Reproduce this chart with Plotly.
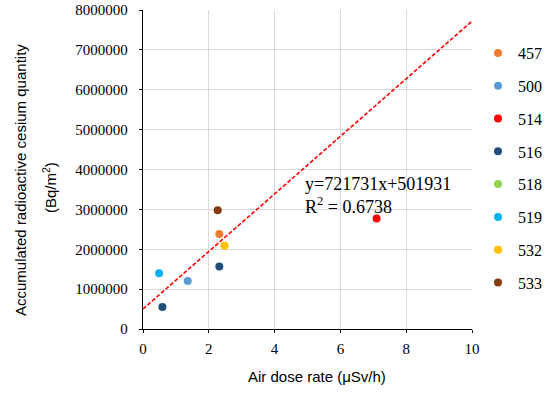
import plotly.graph_objects as go

# Site measurements: air dose rate (µSv/h) vs accumulated Cs deposition (Bq/m²)
sites = ["457", "500", "514", "516", "518", "519", "532", "533"]
colors = ["#ED7D31", "#5B9BD5", "#FF0000", "#1F4E79", "#92D050", "#00B0F0", "#FFC000", "#843C0C"]
dose_rate = {
    "457": [2.32],
    "500": [1.36],
    "514": [7.10],
    "516": [2.32, 0.59],
    "518": [None],
    "519": [0.49],
    "532": [2.48],
    "533": [2.27],
}
cesium = {
    "457": [2380000],
    "500": [1205000],
    "514": [2770000],
    "516": [1565000, 553000],
    "518": [None],
    "519": [1400000],
    "532": [2085000],
    "533": [2980000],
}

# Linear trend fitted to the measurements
slope = 721731
intercept = 501931
r_squared = 0.6738
trend_x = [0, 10]

SERIF = "Liberation Serif"
SANS = "Liberation Sans"

W, H = 547, 394
L, R, T, B = 143, 75, 10, 65
pw, ph = W - L - R, H - T - B


def px_x(p):
    return (p - L) / pw


def px_y(p):
    return (H - B - p) / ph


fig = go.Figure()

fig.add_trace(go.Scatter(
    x=trend_x,
    y=[slope * x + intercept for x in trend_x],
    mode="lines",
    line=dict(color="#FF0000", width=1.6, dash="4px,2px"),
    showlegend=False,
    hoverinfo="skip",
))

for name, col in zip(sites, colors):
    fig.add_trace(go.Scatter(
        x=dose_rate[name],
        y=cesium[name],
        mode="markers",
        name=name,
        legendgroup=name,
        showlegend=True,
        marker=dict(color=col, size=8, line=dict(width=0)),
    ))

fig.add_annotation(
    x=4.87, y=3640000, xref="x", yref="y",
    text=f"y={slope}x+{intercept}",
    showarrow=False, xanchor="left", yanchor="middle",
    font=dict(family=SERIF, size=18, color="#000000"),
)
fig.add_annotation(
    x=4.87, y=3090000, xref="x", yref="y",
    text=f"R<sup>2</sup> = {r_squared}",
    showarrow=False, xanchor="left", yanchor="middle",
    font=dict(family=SERIF, size=18, color="#000000"),
)

# Axis titles
fig.add_annotation(
    x=px_x(317), y=px_y(377), xref="paper", yref="paper",
    text="Air dose rate (μSv/h)", showarrow=False,
    xanchor="center", yanchor="middle",
    font=dict(family=SANS, size=15, color="#000000"),
)
fig.add_annotation(
    x=px_x(20), y=px_y(180), xref="paper", yref="paper",
    text="Accumulated radioactive cesium quantity", showarrow=False,
    textangle=-90, xanchor="center", yanchor="middle",
    font=dict(family=SANS, size=15, color="#000000"),
)
fig.add_annotation(
    x=px_x(49), y=px_y(188), xref="paper", yref="paper",
    text="(Bq/m<sup>2</sup>)", showarrow=False,
    textangle=-90, xanchor="center", yanchor="middle",
    font=dict(family=SANS, size=15, color="#000000"),
)

fig.update_layout(
    width=W, height=H,
    margin=dict(l=L, r=R, t=T, b=B, autoexpand=False),
    paper_bgcolor="white",
    plot_bgcolor="white",
    font=dict(family=SERIF, color="#000000"),
    showlegend=True,
    legend=dict(
        x=px_x(478), y=px_y(36),
        xanchor="left", yanchor="top",
        font=dict(family=SERIF, size=16, color="#000000"),
        itemwidth=30,
        tracegroupgap=9,
        bgcolor="rgba(0,0,0,0)",
    ),
    xaxis=dict(
        range=[0, 10], tick0=0, dtick=2,
        showgrid=True, gridcolor="#D9D9D9", gridwidth=1,
        zeroline=False,
        showline=True, linecolor="#000000", linewidth=1.3,
        ticks="outside", ticklen=3, tickcolor="#000000",
        ticklabelstandoff=3,
        tickfont=dict(family=SERIF, size=15, color="#000000"),
    ),
    yaxis=dict(
        range=[0, 8000000], tick0=0, dtick=1000000, tickformat="d",
        showgrid=True, gridcolor="#D9D9D9", gridwidth=1,
        zeroline=False,
        showline=True, linecolor="#000000", linewidth=1.3,
        ticks="outside", ticklen=3, tickcolor="#000000",
        ticklabelstandoff=8,
        tickfont=dict(family=SERIF, size=15, color="#000000"),
    ),
)

fig.write_html("out.html")
